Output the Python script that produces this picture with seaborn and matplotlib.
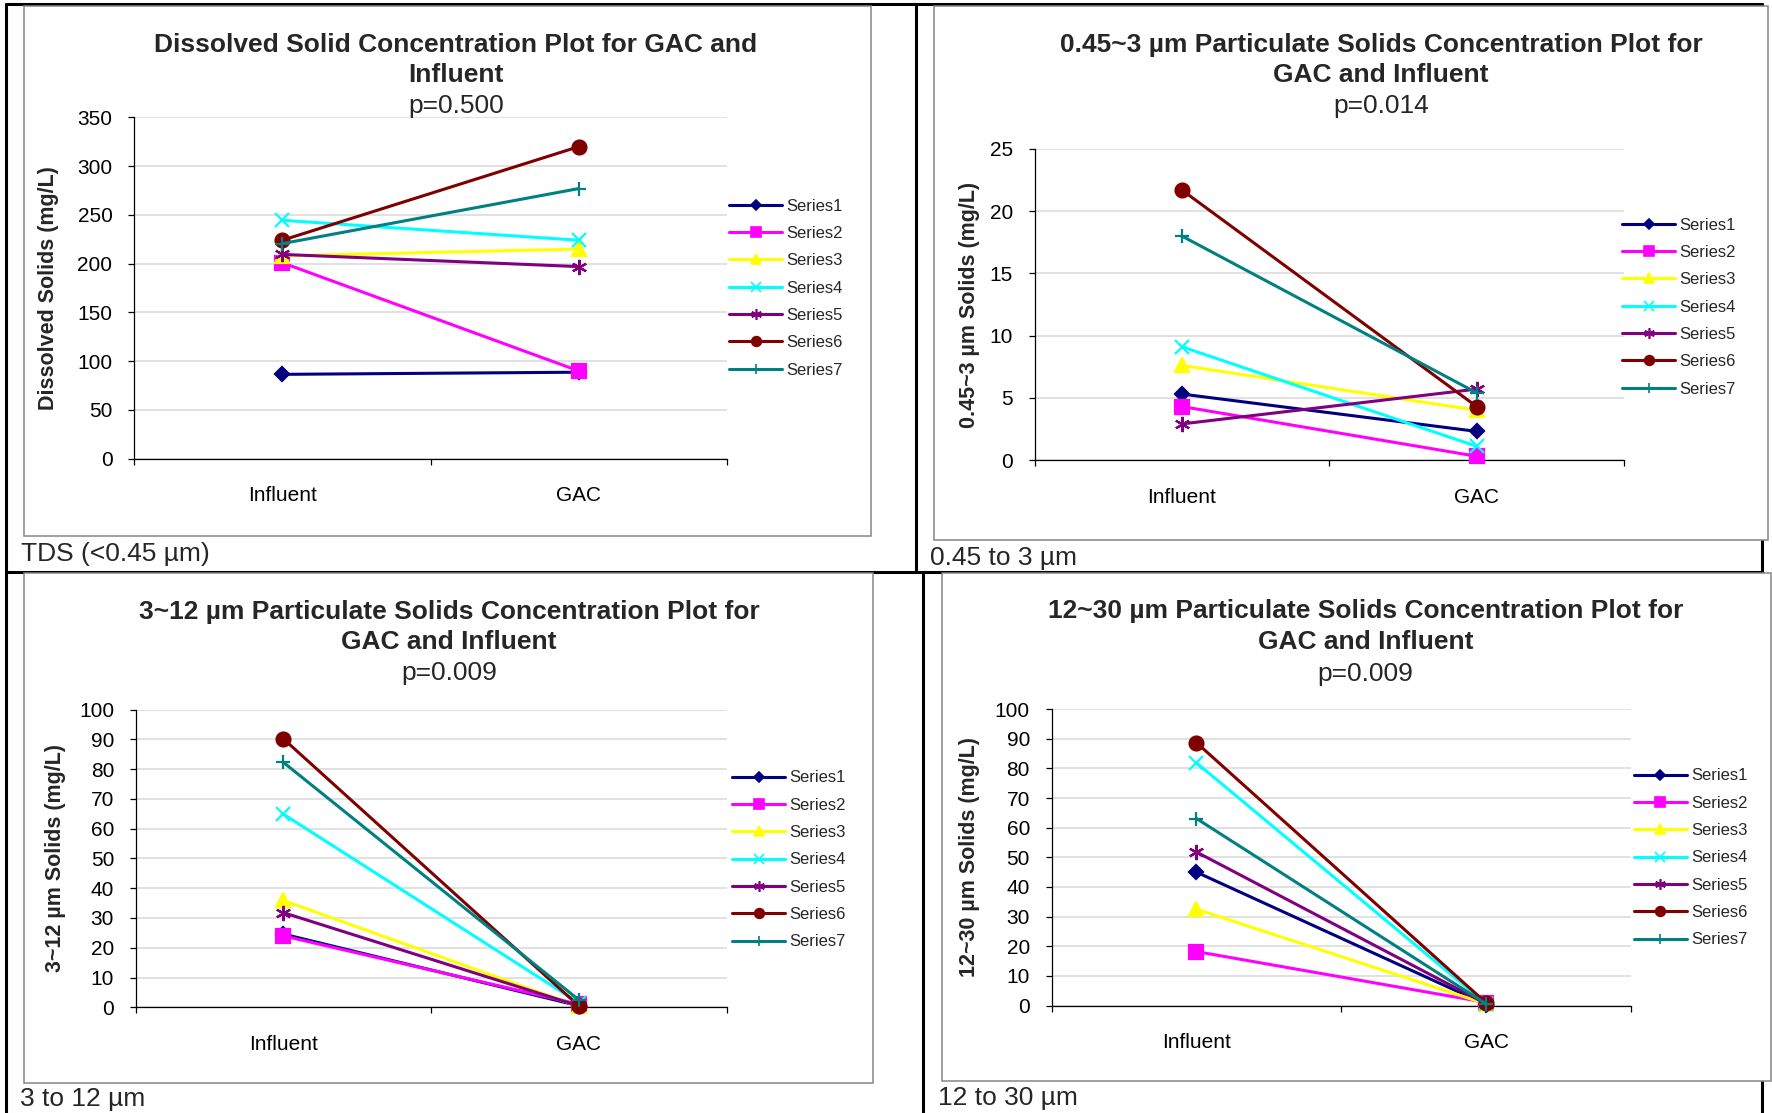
#!/usr/bin/env python3
import numpy as np
import pandas as pd
import matplotlib
matplotlib.use("Agg")
import matplotlib.pyplot as plt
from matplotlib.lines import Line2D
from matplotlib.patches import Rectangle
import seaborn as sns

# --- data ---
categories = ["Influent", "GAC"]
series_names = ["Series1", "Series2", "Series3", "Series4", "Series5", "Series6", "Series7"]

tds_influent = [86.5, 201, 208, 244.5, 209.5, 224, 220.6]
tds_gac = [88.7, 90, 215, 224, 197, 320, 277]

p045_influent = [5.3, 4.3, 7.6, 9.1, 2.9, 21.7, 18.0]
p045_gac = [2.3, 0.3, 4.0, 1.1, 5.7, 4.3, 5.4]

p3_influent = [24.6, 24.0, 35.9, 64.9, 31.8, 90.2, 82.3]
p3_gac = [0.5, 1.0, 0.3, 1.5, 0.5, 0.5, 2.5]

p12_influent = [45.0, 18.2, 32.5, 81.9, 51.8, 88.7, 63.1]
p12_gac = [0.3, 1.0, 0.5, 0.5, 0.5, 0.8, 0.5]

titles = [
    ["Dissolved Solid Concentration Plot for GAC and", "Influent"],
    ["0.45~3 µm Particulate Solids Concentration Plot for", "GAC and Influent"],
    ["3~12 µm Particulate Solids Concentration Plot for", "GAC and Influent"],
    ["12~30 µm Particulate Solids Concentration Plot for", "GAC and Influent"],
]
p_values = ["p=0.500", "p=0.014", "p=0.009", "p=0.009"]
y_labels = ["Dissolved Solids (mg/L)", "0.45~3 µm Solids (mg/L)",
            "3~12 µm Solids (mg/L)", "12~30 µm Solids (mg/L)"]
captions = ["TDS (<0.45 µm)", "0.45 to 3 µm", "3 to 12 µm", "12 to 30 µm"]

# Excel 2003 default series styling
series_colors = ["#000080", "#FF00FF", "#FFFF00", "#00FFFF", "#800080", "#800000", "#008080"]
series_markers = ["D", "s", "^", "x", (6, 2, 0), "o", "+"]
marker_sizes = [7, 9.5, 9.5, 10.5, 11, 10, 10]

W, H = 1772, 1113

sns.set_theme(style="white")
plt.rcParams["font.family"] = ["Liberation Sans", "DejaVu Sans"]

fig = plt.figure(figsize=(W / 100, H / 100), dpi=100)
fig.patch.set_facecolor("white")


def fx(x):
    return x / W


def fy(y):
    return 1 - y / H


# panel layout in pixel coordinates
panels = [
    dict(inf=tds_influent, gac=tds_gac, ymax=350, step=50,
         border=(24, 5.5, 871, 536), axes=(134, 117.4, 727, 458.7),
         title_x=456, title_y=(44.5, 75, 106), leg=(729, 288), ylab_x=49,
         cap=(21, 554.5)),
    dict(inf=p045_influent, gac=p045_gac, ymax=25, step=5,
         border=(934.5, 5.5, 1768, 540), axes=(1034.6, 149, 1624, 460),
         title_x=1381, title_y=(45.4, 75, 106), leg=(1622, 307), ylab_x=969.5,
         cap=(930, 558)),
    dict(inf=p3_influent, gac=p3_gac, ymax=100, step=10,
         border=(23.5, 573.4, 872.6, 1082.7), axes=(135.6, 709.6, 726.5, 1007.3),
         title_x=449, title_y=(612, 642, 673), leg=(732, 860), ylab_x=56,
         cap=(20, 1099)),
    dict(inf=p12_influent, gac=p12_gac, ymax=100, step=10,
         border=(941.7, 573.4, 1771, 1081), axes=(1051.5, 709.2, 1631.4, 1005.5),
         title_x=1365.6, title_y=(611, 642, 673.6), leg=(1633.6, 858), ylab_x=970,
         cap=(938, 1098)),
]

# --- table grid lines (Word table around the charts) ---
table_lines = [
    ((6, 1762), (4, 4)),
    ((6, 6), (4, 1113)),
    ((916, 916), (4, 572)),
    ((923, 923), (572, 1113)),
    ((6, 1762), (572, 572)),
    ((1762, 1762), (4, 1113)),
]
for xs, ys in table_lines:
    fig.add_artist(Line2D([fx(v) for v in xs], [fy(v) for v in ys],
                          color="black", lw=2.2, zorder=-3))

for k, p in enumerate(panels):
    # chart area box
    bl, bt, br, bb = p["border"]
    fig.add_artist(Rectangle((fx(bl), fy(bb)), fx(br) - fx(bl), fy(bt) - fy(bb),
                             facecolor="white", edgecolor="#868686", lw=1.1,
                             zorder=-2))

    l, t, r, b = p["axes"]
    ax = fig.add_axes([fx(l), fy(b), fx(r) - fx(l), fy(t) - fy(b)])
    ax.patch.set_alpha(0)

    df = pd.DataFrame({
        "series": np.repeat(series_names, 2),
        "pos": [0, 1] * len(series_names),
        "value": np.ravel(np.column_stack([p["inf"], p["gac"]])),
    })
    for i, name in enumerate(series_names):
        col = series_colors[i]
        sns.lineplot(data=df[df["series"] == name], x="pos", y="value", ax=ax,
                     color=col, lw=2.2, marker=series_markers[i],
                     markersize=marker_sizes[i], markeredgecolor=col,
                     markerfacecolor=col, markeredgewidth=1.6,
                     errorbar=None, zorder=3 + i, clip_on=False)

    ax.set_xlim(-0.5, 1.5)
    ax.set_ylim(0, p["ymax"])
    ax.set_yticks(np.arange(0, p["ymax"] + p["step"] / 2, p["step"]))
    ax.set_xticks([0, 1])
    ax.set_xticklabels(categories)
    ax.set_xticks([-0.5, 0.5, 1.5], minor=True)
    ax.set_xlabel("")
    ax.set_ylabel("")
    ax.tick_params(axis="x", which="major", length=0, pad=20, labelsize=15,
                   colors="black", bottom=True)
    ax.tick_params(axis="x", which="minor", length=4.5, width=0.9,
                   direction="out", color="black", bottom=True)
    ax.tick_params(axis="y", length=4.5, width=0.9, pad=11, labelsize=15,
                   direction="out", colors="black", left=True)
    ax.grid(axis="y", color="#d9d9d9", lw=1.1)
    ax.set_axisbelow(True)
    sns.despine(ax=ax)
    for side in ["left", "bottom"]:
        ax.spines[side].set_color("black")
        ax.spines[side].set_linewidth(0.9)

    # legend with Excel-sized small markers
    handles = [Line2D([], [], color=series_colors[i], lw=2.2,
                      marker=series_markers[i], markersize=marker_sizes[i] * 0.7,
                      markeredgecolor=series_colors[i],
                      markerfacecolor=series_colors[i], markeredgewidth=1.2)
               for i in range(len(series_names))]
    lx, ly = p["leg"]
    ax.legend(handles, series_names, loc="center left",
              bbox_to_anchor=(fx(lx), fy(ly)), bbox_transform=fig.transFigure,
              frameon=False, fontsize=12, handlelength=3.2, handletextpad=0.25,
              labelspacing=0.74, borderpad=0, borderaxespad=0)

    # titles, axis label, caption
    ty = p["title_y"]
    fig.text(fx(p["title_x"]), fy(ty[0]), titles[k][0], ha="center", va="center",
             fontsize=19, fontweight="bold")
    fig.text(fx(p["title_x"]), fy(ty[1]), titles[k][1], ha="center", va="center",
             fontsize=19, fontweight="bold")
    fig.text(fx(p["title_x"]), fy(ty[2]), p_values[k], ha="center", va="center",
             fontsize=19)
    fig.text(fx(p["ylab_x"]), fy((t + b) / 2), y_labels[k], rotation=90,
             ha="center", va="center", fontsize=15.5, fontweight="bold")
    cx, cy = p["cap"]
    fig.text(fx(cx), fy(cy), captions[k], ha="left", va="center", fontsize=19)

fig.savefig("out.png", dpi=100)
